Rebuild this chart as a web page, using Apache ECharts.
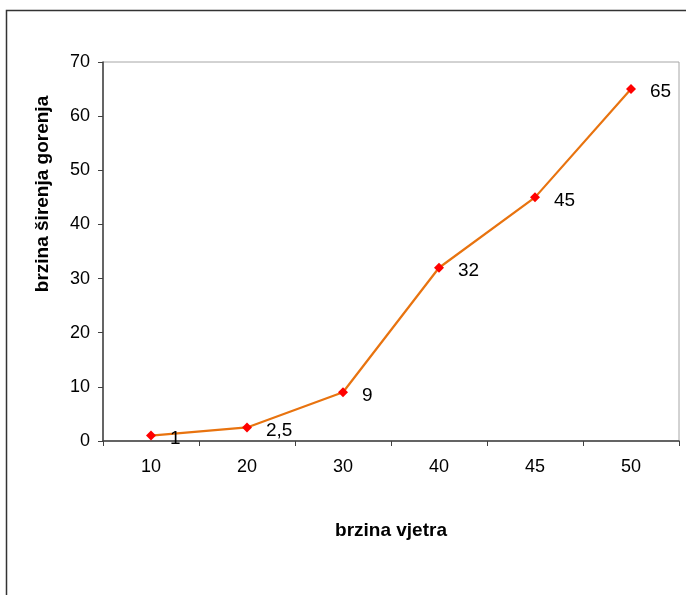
<!DOCTYPE html>
<html>
<head>
<meta charset="utf-8">
<script src="https://cdn.jsdelivr.net/npm/echarts@6/dist/echarts.min.js"></script>
<style>
html,body{margin:0;padding:0;background:#fff;}
#main{width:686px;height:595px;}
</style>
</head>
<body>
<div id="main"></div>
<script>
const categories = ['10', '20', '30', '40', '45', '50'];
const values = [1, 2.5, 9, 32, 45, 65];
const yTicks = { min: 0, max: 70, interval: 10 };
const xName = 'brzina vjetra';
const yName = 'brzina širenja gorenja';

const chart = echarts.init(document.getElementById('main'), null, { renderer: 'canvas' });
const font = '"Liberation Sans", Arial, sans-serif';
chart.setOption({
  animation: false,
  backgroundColor: '#fff',
  grid: {
    left: 103, right: 7, top: 62, bottom: 154,
    show: true, borderColor: '#a6a6a6', borderWidth: 1, backgroundColor: 'transparent'
  },
  graphic: [
    { type: 'rect', shape: { x: 6.5, y: 10.5, width: 700, height: 600 },
      style: { fill: 'none', stroke: '#333', lineWidth: 1.5 }, silent: true, z: 0 },
    { type: 'text', x: 43, y: 194, rotation: Math.PI / 2,
      style: { text: yName, font: 'bold 19px ' + font, fill: '#000', align: 'center', verticalAlign: 'middle' } }
  ],
  xAxis: {
    type: 'category',
    data: categories,
    boundaryGap: true,
    name: xName,
    nameLocation: 'middle',
    nameGap: 80,
    nameTextStyle: { fontFamily: font, fontWeight: 'bold', fontSize: 19, color: '#000' },
    axisLine: { lineStyle: { color: '#404040', width: 1.5 } },
    axisTick: { show: true, length: 5, lineStyle: { color: '#404040' } },
    axisLabel: { fontFamily: font, fontSize: 18, color: '#000', margin: 17 },
    splitLine: { show: false }
  },
  yAxis: {
    type: 'value',
    min: yTicks.min, max: yTicks.max, interval: yTicks.interval,
    axisLine: { show: true, lineStyle: { color: '#404040', width: 1.5 } },
    axisTick: { show: true, length: 5, lineStyle: { color: '#404040' } },
    axisLabel: { fontFamily: font, fontSize: 18, color: '#000', margin: 13 },
    splitLine: { show: false }
  },
  series: [{
    type: 'line',
    data: values,
    symbol: 'diamond',
    symbolSize: 10,
    itemStyle: { color: '#ff0000' },
    lineStyle: { color: '#e8730f', width: 2.2 },
    label: {
      show: true,
      position: 'right',
      distance: 14,
      offset: [0, 3],
      fontFamily: font,
      fontSize: 19,
      color: '#000',
      formatter: p => String(p.value).replace('.', ',')
    }
  }]
});
</script>
</body>
</html>
